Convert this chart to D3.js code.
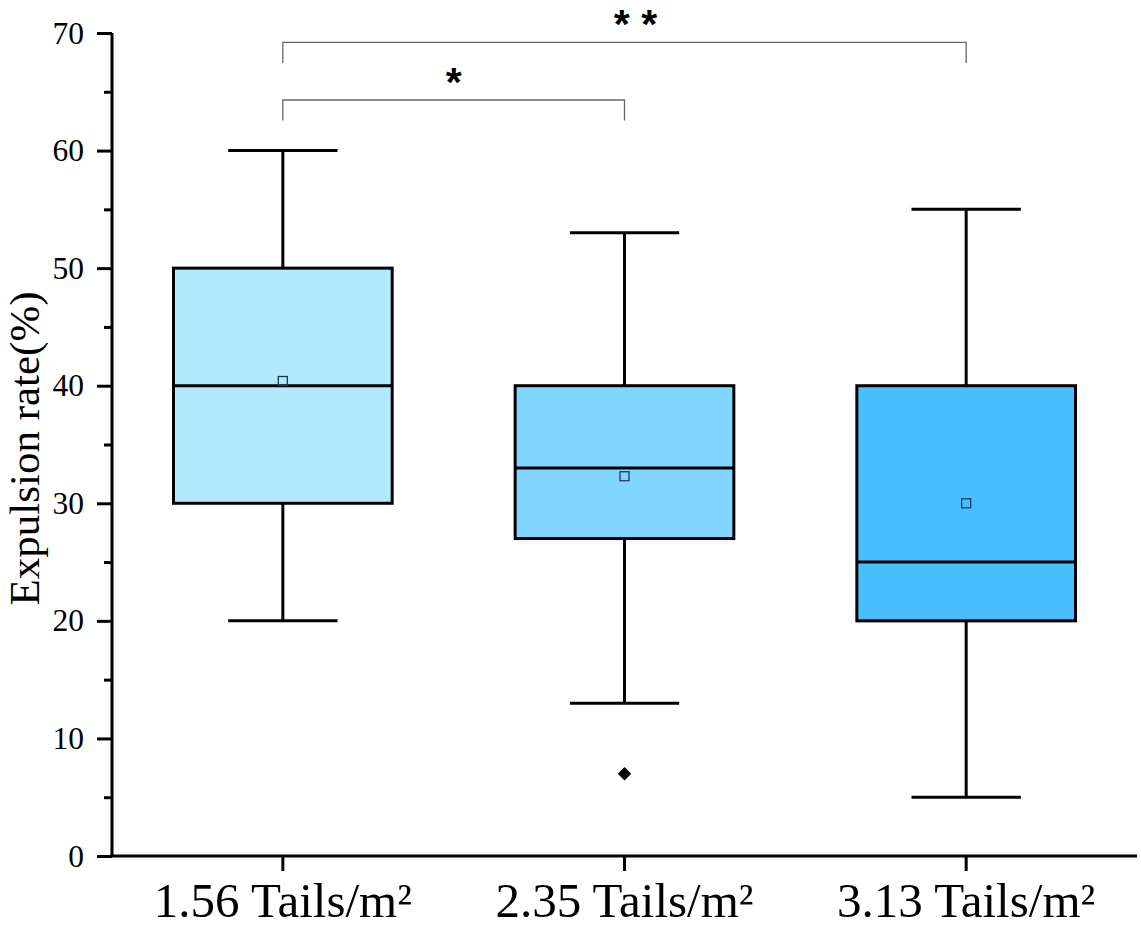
<!DOCTYPE html>
<html lang="en">
	<head>
		<meta charset="UTF-8">
		<title>Expulsion rate</title>
		<script src="https://d3js.org/d3.v7.min.js"></script>
		<style type="text/css">
			body {
				margin: 0;
				background: #fff;
			}
			svg {
				display: block;
			}
			.axis text {
				font-family: "Liberation Serif", "Times New Roman", serif;
				fill: #000;
			}
			.title {
				font-family: "Liberation Serif", "Times New Roman", serif;
				font-size: 43px;
			}
			.star {
				font-family: "Liberation Sans", Arial, sans-serif;
				font-weight: bold;
				font-size: 41px;
			}
		</style>
	</head>
	<body>
		<svg id="chart"></svg>
		<script type="text/javascript">
			// data
			const categories = ["1.56 Tails/m²", "2.35 Tails/m²", "3.13 Tails/m²"];
			const whiskerLow = [20, 13, 5];
			const q1 = [30, 27, 20];
			const medians = [40, 33, 25];
			const q3 = [50, 40, 40];
			const whiskerHigh = [60, 53, 55];
			const means = [40.4, 32.3, 30.0];
			const outliers = [[], [7], []];
			const yTicks = [0, 10, 20, 30, 40, 50, 60, 70];
			const yMinorTicks = [5, 15, 25, 35, 45, 55, 65];
			// significance brackets: from, to, label, level
			const pairFrom = [0, 0];
			const pairTo = [1, 2];
			const pairLabel = ["*", "* *"];
			const pairLevel = [64.3, 69.2];

			const fills = ["#b3e9fd", "#80d6ff", "#48beff"];

			const w = 1141;
			const h = 928;
			const margin = {top: 33, right: 4, bottom: 72, left: 112};

			const svg = d3.select("#chart")
				.attr("width", w)
				.attr("height", h);

			const x = d3.scaleBand()
				.domain(categories)
				.range([margin.left, w - margin.right])
				.padding(0);

			const y = d3.scaleLinear()
				.domain([0, 70])
				.range([h - margin.bottom, margin.top]);

			const boxW = x.bandwidth() * 0.64;
			const capW = boxW / 2;

			const rows = categories.map((c, i) => ({
				cat: c, lo: whiskerLow[i], q1: q1[i], med: medians[i], q3: q3[i],
				hi: whiskerHigh[i], mean: means[i], out: outliers[i], fill: fills[i]
			}));

			// boxes
			const g = svg.selectAll("g.box")
				.data(rows)
				.enter()
				.append("g")
				.attr("class", "box")
				.attr("transform", d => "translate(" + (x(d.cat) + x.bandwidth() / 2) + ",0)");

			g.append("line")
				.attr("x1", 0).attr("x2", 0)
				.attr("y1", d => y(d.hi)).attr("y2", d => y(d.q3))
				.attr("stroke", "#000").attr("stroke-width", 3);
			g.append("line")
				.attr("x1", 0).attr("x2", 0)
				.attr("y1", d => y(d.q1)).attr("y2", d => y(d.lo))
				.attr("stroke", "#000").attr("stroke-width", 3);
			g.append("line")
				.attr("x1", -capW / 2).attr("x2", capW / 2)
				.attr("y1", d => y(d.hi)).attr("y2", d => y(d.hi))
				.attr("stroke", "#000").attr("stroke-width", 3);
			g.append("line")
				.attr("x1", -capW / 2).attr("x2", capW / 2)
				.attr("y1", d => y(d.lo)).attr("y2", d => y(d.lo))
				.attr("stroke", "#000").attr("stroke-width", 3);

			g.append("rect")
				.attr("x", -boxW / 2)
				.attr("width", boxW)
				.attr("y", d => y(d.q3))
				.attr("height", d => y(d.q1) - y(d.q3))
				.attr("fill", d => d.fill)
				.attr("stroke", "#000")
				.attr("stroke-width", 3);

			g.append("line")
				.attr("x1", -boxW / 2).attr("x2", boxW / 2)
				.attr("y1", d => y(d.med)).attr("y2", d => y(d.med))
				.attr("stroke", "#000").attr("stroke-width", 3);

			// mean marker
			g.append("rect")
				.attr("x", -4.5).attr("width", 9)
				.attr("y", d => y(d.mean) - 4.5).attr("height", 9)
				.attr("fill", "none")
				.attr("stroke", "#1b3a5e")
				.attr("stroke-width", 1.3);

			// outliers
			g.selectAll("path.out")
				.data(d => d.out)
				.enter()
				.append("path")
				.attr("class", "out")
				.attr("d", d3.symbol().type(d3.symbolDiamond2).size(115))
				.attr("transform", d => "translate(0," + y(d) + ")")
				.attr("fill", "#000");

			// y axis
			const yAxis = svg.append("g")
				.attr("class", "axis")
				.attr("transform", "translate(" + margin.left + ",0)")
				.call(d3.axisLeft(y).tickValues(yTicks).tickSize(15).tickPadding(13));
			yAxis.selectAll("text").attr("font-size", 31.5);
			yAxis.select(".domain").attr("stroke-width", 3).attr("d", "M0," + y(0) + "V" + y(70));
			yAxis.selectAll(".tick line").attr("stroke-width", 3);

			const yMinor = svg.append("g")
				.attr("transform", "translate(" + margin.left + ",0)")
				.call(d3.axisLeft(y).tickValues(yMinorTicks).tickSize(8).tickFormat(""));
			yMinor.select(".domain").remove();
			yMinor.selectAll(".tick line").attr("stroke-width", 3);

			// x axis
			const xAxis = svg.append("g")
				.attr("class", "axis")
				.attr("transform", "translate(0," + y(0) + ")")
				.call(d3.axisBottom(x).tickSize(15).tickPadding(14));
			xAxis.selectAll("text").attr("font-size", 49).attr("dy", "0.66em");
			xAxis.select(".domain").attr("stroke-width", 3).attr("d", "M" + (margin.left - 1.5) + ",0H" + (w - margin.right));
			xAxis.selectAll(".tick line").attr("stroke-width", 3);

			// y title
			svg.append("text")
				.attr("class", "title")
				.attr("transform", "translate(39," + ((y(0) + y(70)) / 2 + 4) + ") rotate(-90)")
				.attr("text-anchor", "middle")
				.text("Expulsion rate(%)");

			// significance brackets
			const cx = i => x(categories[i]) + x.bandwidth() / 2;
			pairFrom.forEach((a, k) => {
				const b = pairTo[k];
				const yl = y(pairLevel[k]);
				const drop = y(pairLevel[k] - 1.75) - yl;
				svg.append("path")
					.attr("d", "M" + cx(a) + "," + (yl + drop) + "V" + yl + "H" + cx(b) + "V" + (yl + drop))
					.attr("fill", "none")
					.attr("stroke", "#666")
					.attr("stroke-width", 1.3);
				svg.append("text")
					.attr("class", "star")
					.attr("x", (cx(a) + cx(b)) / 2 + (k === 1 ? 11 : 0))
					.attr("y", yl - 4)
					.attr("text-anchor", "middle")
					.text(pairLabel[k]);
			});
		</script>
	</body>
</html>
